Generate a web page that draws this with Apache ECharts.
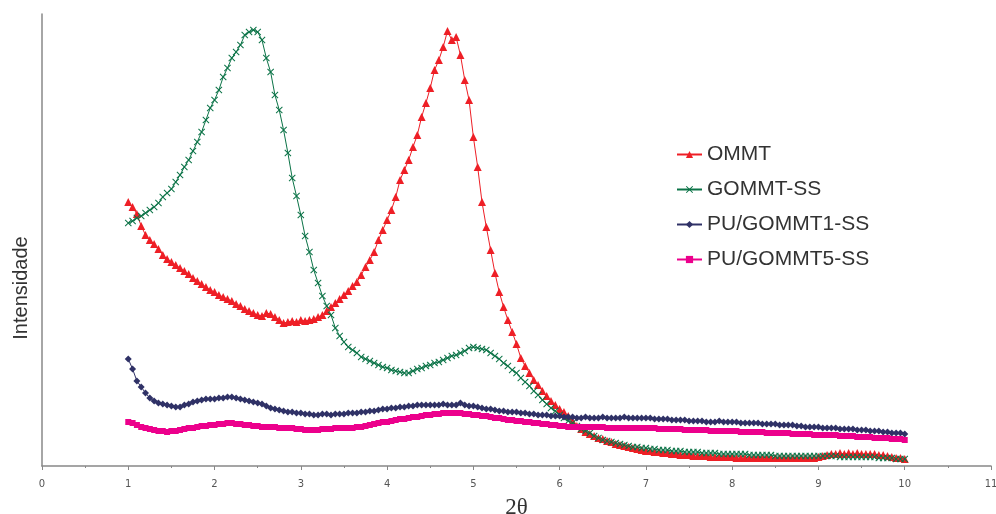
<!DOCTYPE html>
<html>
<head>
<meta charset="utf-8">
<script src="https://cdn.jsdelivr.net/npm/echarts@6/dist/echarts.min.js"></script>
<style>
  html, body { margin: 0; padding: 0; background: #fff; }
  #chart { width: 996px; height: 514px; }
</style>
</head>
<body>
<div id="chart"></div>
<script>
// 2theta sampling positions (degrees)
var theta = [
  1.00, 1.05, 1.10, 1.15, 1.20, 1.25, 1.30, 1.35, 1.40, 1.45,
  1.50, 1.55, 1.60, 1.65, 1.70, 1.75, 1.80, 1.85, 1.90, 1.95,
  2.00, 2.05, 2.10, 2.15, 2.20, 2.25, 2.30, 2.35, 2.40, 2.45,
  2.50, 2.55, 2.60, 2.65, 2.70, 2.75, 2.80, 2.85, 2.90, 2.95,
  3.00, 3.05, 3.10, 3.15, 3.20, 3.25, 3.30, 3.35, 3.40, 3.45,
  3.50, 3.55, 3.60, 3.65, 3.70, 3.75, 3.80, 3.85, 3.90, 3.95,
  4.00, 4.05, 4.10, 4.15, 4.20, 4.25, 4.30, 4.35, 4.40, 4.45,
  4.50, 4.55, 4.60, 4.65, 4.70, 4.75, 4.80, 4.85, 4.90, 4.95,
  5.00, 5.05, 5.10, 5.15, 5.20, 5.25, 5.30, 5.35, 5.40, 5.45,
  5.50, 5.55, 5.60, 5.65, 5.70, 5.75, 5.80, 5.85, 5.90, 5.95,
  6.00, 6.05, 6.10, 6.15, 6.20, 6.25, 6.30, 6.35, 6.40, 6.45,
  6.50, 6.55, 6.60, 6.65, 6.70, 6.75, 6.80, 6.85, 6.90, 6.95,
  7.00, 7.05, 7.10, 7.15, 7.20, 7.25, 7.30, 7.35, 7.40, 7.45,
  7.50, 7.55, 7.60, 7.65, 7.70, 7.75, 7.80, 7.85, 7.90, 7.95,
  8.00, 8.05, 8.10, 8.15, 8.20, 8.25, 8.30, 8.35, 8.40, 8.45,
  8.50, 8.55, 8.60, 8.65, 8.70, 8.75, 8.80, 8.85, 8.90, 8.95,
  9.00, 9.05, 9.10, 9.15, 9.20, 9.25, 9.30, 9.35, 9.40, 9.45,
  9.50, 9.55, 9.60, 9.65, 9.70, 9.75, 9.80, 9.85, 9.90, 9.95,
  10.00
]

// intensities (arbitrary units), one row per degree
var ommt = [
  264, 259, 252, 240, 231, 226, 222, 217, 211, 207, 204, 201, 198, 195, 192, 188, 185, 182, 179, 176,
  174, 171, 169, 167, 165, 162, 160, 157, 155, 153, 151, 150, 153, 152, 149, 146, 143, 144, 145, 144,
  146, 145, 146, 147, 149, 151, 155, 159, 163, 167, 171, 175, 180, 184, 191, 199, 206, 214, 226, 236,
  246, 256, 269, 286, 296, 306, 319, 331, 349, 363, 378, 396, 406, 419, 435, 426, 429, 411, 386, 366,
  329, 299, 264, 239, 216, 193, 174, 159, 146, 134, 122, 108, 100, 93, 86, 81, 75, 70, 65, 61,
  57, 54, 50, 45, 40, 37, 34, 32, 30, 28, 27, 25, 24, 22, 21, 20, 19, 18, 17, 16,
  15, 15, 14, 14, 13, 13, 12, 12, 11, 11, 11, 10, 10, 10, 10, 9, 9, 9, 9, 9,
  9, 8, 8, 8, 8, 8, 8, 8, 8, 8, 8, 8, 8, 8, 8, 8, 8, 8, 8, 8,
  9, 10, 11, 12, 12, 13, 12, 13, 12, 13, 12, 12, 12, 12, 11, 11, 10, 9, 8, 8,
  7
]
var gommt = [
  243, 245, 248, 250, 253, 256, 259, 263, 269, 273, 277, 284, 291, 299, 306, 315, 324, 334, 346, 358,
  366, 376, 389, 398, 408, 414, 421, 431, 434, 436, 434, 426, 408, 394, 371, 356, 336, 313, 288, 270,
  251, 230, 214, 196, 183, 170, 160, 151, 138, 130, 124, 119, 116, 113, 109, 107, 105, 103, 101, 99,
  98, 96, 95, 94, 93, 93, 95, 97, 98, 100, 101, 103, 104, 106, 108, 110, 111, 113, 115, 118,
  119, 118, 117, 116, 113, 110, 107, 103, 100, 96, 93, 88, 84, 80, 75, 71, 66, 62, 58, 55,
  51, 48, 45, 43, 40, 37, 35, 33, 30, 28, 26, 25, 24, 23, 22, 21, 20, 19, 19, 18,
  18, 17, 17, 16, 16, 16, 15, 15, 15, 14, 14, 14, 14, 13, 13, 13, 13, 12, 12, 12,
  12, 12, 12, 12, 11, 11, 11, 11, 11, 11, 10, 10, 10, 10, 10, 10, 10, 10, 10, 10,
  10, 10, 10, 10, 10, 9, 9, 9, 9, 9, 9, 9, 9, 9, 8, 8, 8, 8, 7, 7,
  7
]
var pu1 = [
  107, 97, 85, 79, 73, 68, 65, 63, 62, 61, 60, 59, 59, 61, 62, 64, 65, 66, 67, 67,
  67, 68, 68, 69, 69, 68, 67, 66, 65, 64, 63, 62, 60, 58, 57, 56, 55, 54, 54, 53,
  53, 52, 52, 51, 51, 52, 52, 51, 52, 52, 52, 53, 53, 53, 54, 54, 55, 55, 56, 57,
  57, 58, 58, 59, 59, 60, 60, 61, 61, 61, 61, 61, 61, 62, 61, 61, 61, 63, 61, 60,
  60, 59, 58, 57, 57, 56, 55, 55, 54, 54, 54, 53, 53, 52, 52, 51, 51, 51, 50, 50,
  50, 49, 49, 49, 48, 48, 49, 48, 48, 48, 49, 48, 48, 48, 48, 49, 48, 48, 48, 48,
  48, 48, 47, 47, 47, 47, 46, 46, 46, 46, 45, 45, 45, 45, 44, 44, 44, 45, 44, 44,
  44, 44, 43, 43, 43, 43, 43, 42, 42, 42, 42, 41, 41, 41, 41, 40, 40, 39, 39, 39,
  39, 38, 38, 38, 38, 37, 37, 37, 37, 36, 36, 36, 35, 35, 35, 34, 34, 33, 33, 33,
  32
]
var pu5 = [
  44, 43, 41, 39, 38, 37, 36, 35, 35, 34, 35, 35, 36, 37, 38, 38, 39, 40, 40, 41,
  41, 42, 42, 43, 43, 42, 42, 41, 41, 40, 40, 39, 39, 39, 39, 38, 38, 38, 38, 37,
  37, 36, 36, 36, 36, 37, 37, 37, 38, 38, 38, 38, 38, 39, 39, 40, 41, 42, 43, 44,
  44, 45, 46, 47, 47, 48, 49, 49, 50, 51, 51, 52, 52, 53, 53, 53, 53, 53, 52, 52,
  51, 51, 50, 50, 49, 48, 48, 47, 46, 46, 45, 45, 44, 44, 43, 43, 42, 42, 41, 41,
  40, 40, 39, 39, 39, 39, 39, 39, 39, 39, 39, 38, 38, 38, 38, 38, 38, 38, 38, 38,
  38, 38, 38, 37, 37, 37, 37, 37, 37, 36, 36, 36, 36, 36, 36, 35, 35, 35, 35, 35,
  35, 35, 34, 34, 34, 34, 34, 34, 33, 33, 33, 33, 33, 33, 32, 32, 32, 32, 32, 31,
  31, 31, 31, 31, 31, 30, 30, 30, 30, 29, 29, 29, 29, 28, 28, 28, 28, 27, 27, 27,
  26
]

var names = ['OMMT', 'GOMMT-SS', 'PU/GOMMT1-SS', 'PU/GOMMT5-SS']
var colors = ['#ee1f26', '#0b7347', '#2f3166', '#ec008c']

var crossSymbol = 'path://M0,1L1,0L5,4L9,0L10,1L6,5L10,9L9,10L5,6L1,10L0,9L4,5Z'

function pairs(vals) {
  return theta.map(function (t, i) { return [t, vals[i]] })
}

function makeSeries(name, vals, color, symbol, size) {
  return {
    name: name,
    type: 'line',
    data: pairs(vals),
    symbol: symbol,
    symbolSize: size,
    showAllSymbol: true,
    itemStyle: { color: color },
    lineStyle: { color: color, width: 1 },
    emphasis: { disabled: true }
  }
}

var chart = echarts.init(document.getElementById('chart'), null, { renderer: 'canvas' })

chart.setOption({
  animation: false,
  backgroundColor: '#fff',
  grid: { left: 42, right: 5, top: 14, bottom: 48, outerBoundsMode: 'none' },
  legend: {
    data: names,
    orient: 'vertical',
    left: 676,
    top: 144,
    padding: 0,
    itemWidth: 25,
    itemHeight: 9,
    itemGap: 14,
    textStyle: { fontSize: 21, fontFamily: 'Liberation Sans', color: '#333' }
  },
  xAxis: {
    type: 'value',
    min: 0,
    max: 11,
    interval: 1,
    name: '2θ',
    nameLocation: 'middle',
    nameGap: 30,
    nameTextStyle: { fontSize: 23, fontFamily: 'Liberation Serif', color: '#333' },
    axisLine: { show: true, lineStyle: { color: '#888', width: 1.5 } },
    axisTick: { show: true, length: 4, lineStyle: { color: '#888' } },
    minorTick: { show: true, splitNumber: 2, length: 2, lineStyle: { color: '#888' } },
    axisLabel: { fontSize: 10, fontFamily: 'DejaVu Sans', color: '#555', margin: 13 },
    splitLine: { show: false }
  },
  yAxis: {
    type: 'value',
    min: 0,
    max: 452,
    axisLine: { show: true, lineStyle: { color: '#888', width: 1.5 } },
    axisTick: { show: false },
    axisLabel: { show: false },
    splitLine: { show: false }
  },
  graphic: [{
    type: 'text',
    x: 21,
    y: 288,
    rotation: Math.PI / 2,
    style: {
      text: 'Intensidade',
      fontSize: 20,
      fontFamily: 'Liberation Sans',
      fill: '#333',
      align: 'center',
      verticalAlign: 'middle'
    }
  }],
  series: [
    makeSeries(names[0], ommt, colors[0], 'triangle', 8),
    makeSeries(names[1], gommt, colors[1], crossSymbol, 7),
    makeSeries(names[2], pu1, colors[2], 'diamond', 7),
    makeSeries(names[3], pu5, colors[3], 'rect', 6)
  ]
})
</script>
</body>
</html>
